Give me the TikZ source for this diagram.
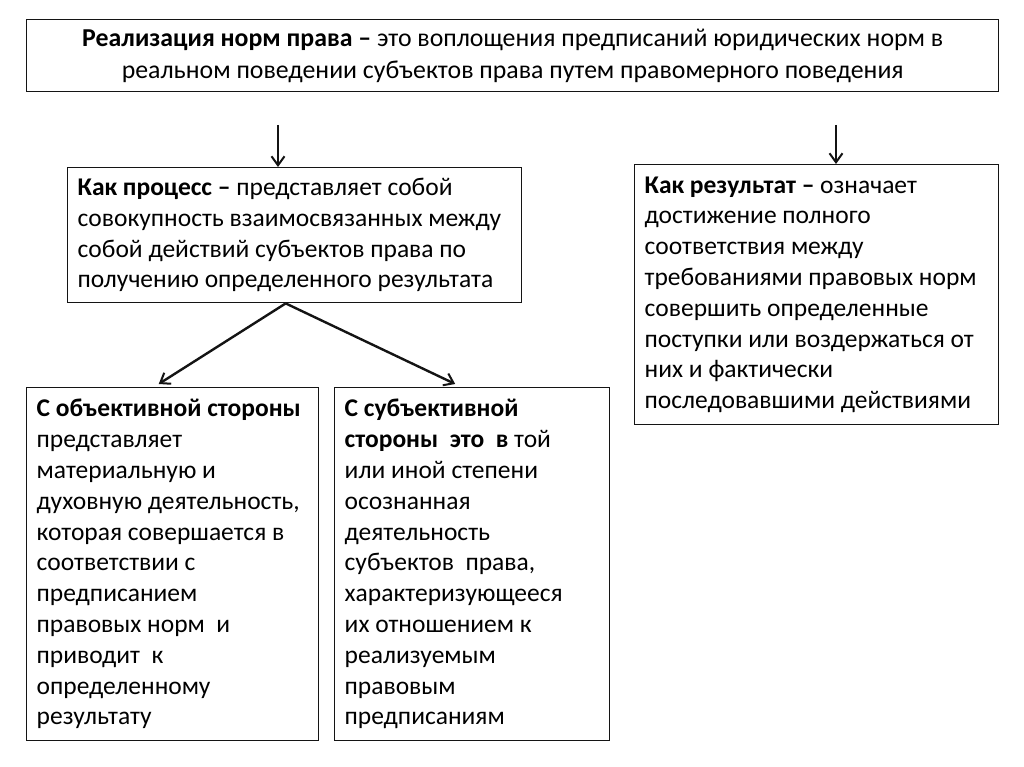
\documentclass[tikz,border=0pt]{standalone}
\usepackage{fontspec}
\setmainfont{Carlito}
\usepackage{xcolor}
\usetikzlibrary{arrows.meta}
\definecolor{Frame}{RGB}{20,20,20}
\tikzset{
  rulebox/.style={draw=Frame,line width=1.4pt,inner xsep=10pt,inner ysep=0pt,
    align=flush left,anchor=north west,font=\fontsize{25.5}{30.8}\selectfont},
  arr/.style={-{Straight Barb[length=9pt,width=13pt,line width=2pt]},line width=2.4pt,Frame}
}
\newcommand{\RuleBox}[6]{% name x y w h text
\node[rulebox,minimum width=#4pt,minimum height=#5pt,text width=#4pt-20pt] (#1) at (#2,#3) {#6};
}

\begin{document}
\begin{tikzpicture}[x=1pt,y=-1pt]
\useasboundingbox (0,0) rectangle (1024,767);
% definition
\node[rulebox,align=flush center,minimum width=972pt,minimum height=72pt,text width=952pt,
  font=\fontsize{25.8}{32}\selectfont] (def) at (26,19)
  {\textbf{Реализация норм права –} это воплощения предписаний юридических норм в\\
   реальном поведении субъектов права путем правомерного поведения};
% two views
\RuleBox{proc}{67}{167}{454}{135}{\textbf{Как процесс –} представляет собой\\
  совокупность взаимосвязанных между\\ собой действий субъектов права по\\
  получению определенного результата}
\RuleBox{res}{634}{164}{364}{260}{\textbf{Как результат –} означает\\ достижение полного\\
  соответствия между\\ требованиями правовых норм\\ совершить определенные\\
  поступки или воздержаться от\\ них и фактически\\ последовавшими действиями}
% two sides of the process
\RuleBox{obj}{26}{387}{292}{353}{\textbf{С объективной стороны}\\ представляет\\ материальную и\\
  духовную деятельность,\\ которая совершается в\\ соответствии с\\ предписанием\\
  правовых норм\ \ и\\ приводит\ \ к\\ определенному\\ результату}
\RuleBox{subj}{334}{387}{275}{353}{\textbf{С субъективной}\\ \textbf{стороны\ \ это\ \ в} той\\
  или иной степени\\ осознанная\\ деятельность\\ субъектов\ \ права,\\
  характеризующееся\\ их отношением к\\ реализуемым\\ правовым\\ предписаниям}
% arrows
\coordinate (a1) at (278,125);
\coordinate (a2) at (836,125);
\draw[arr] (a1) -- (a1 |- proc.north);
\draw[arr] (a2) -- (a2 |- res.north);
\draw[arr] ([xshift=-9pt]proc.south) -- ([xshift=-14pt,yshift=3pt]obj.north);
\draw[arr] ([xshift=-9pt]proc.south) -- ([xshift=-17pt,yshift=3pt]subj.north);
\end{tikzpicture}
\end{document}
